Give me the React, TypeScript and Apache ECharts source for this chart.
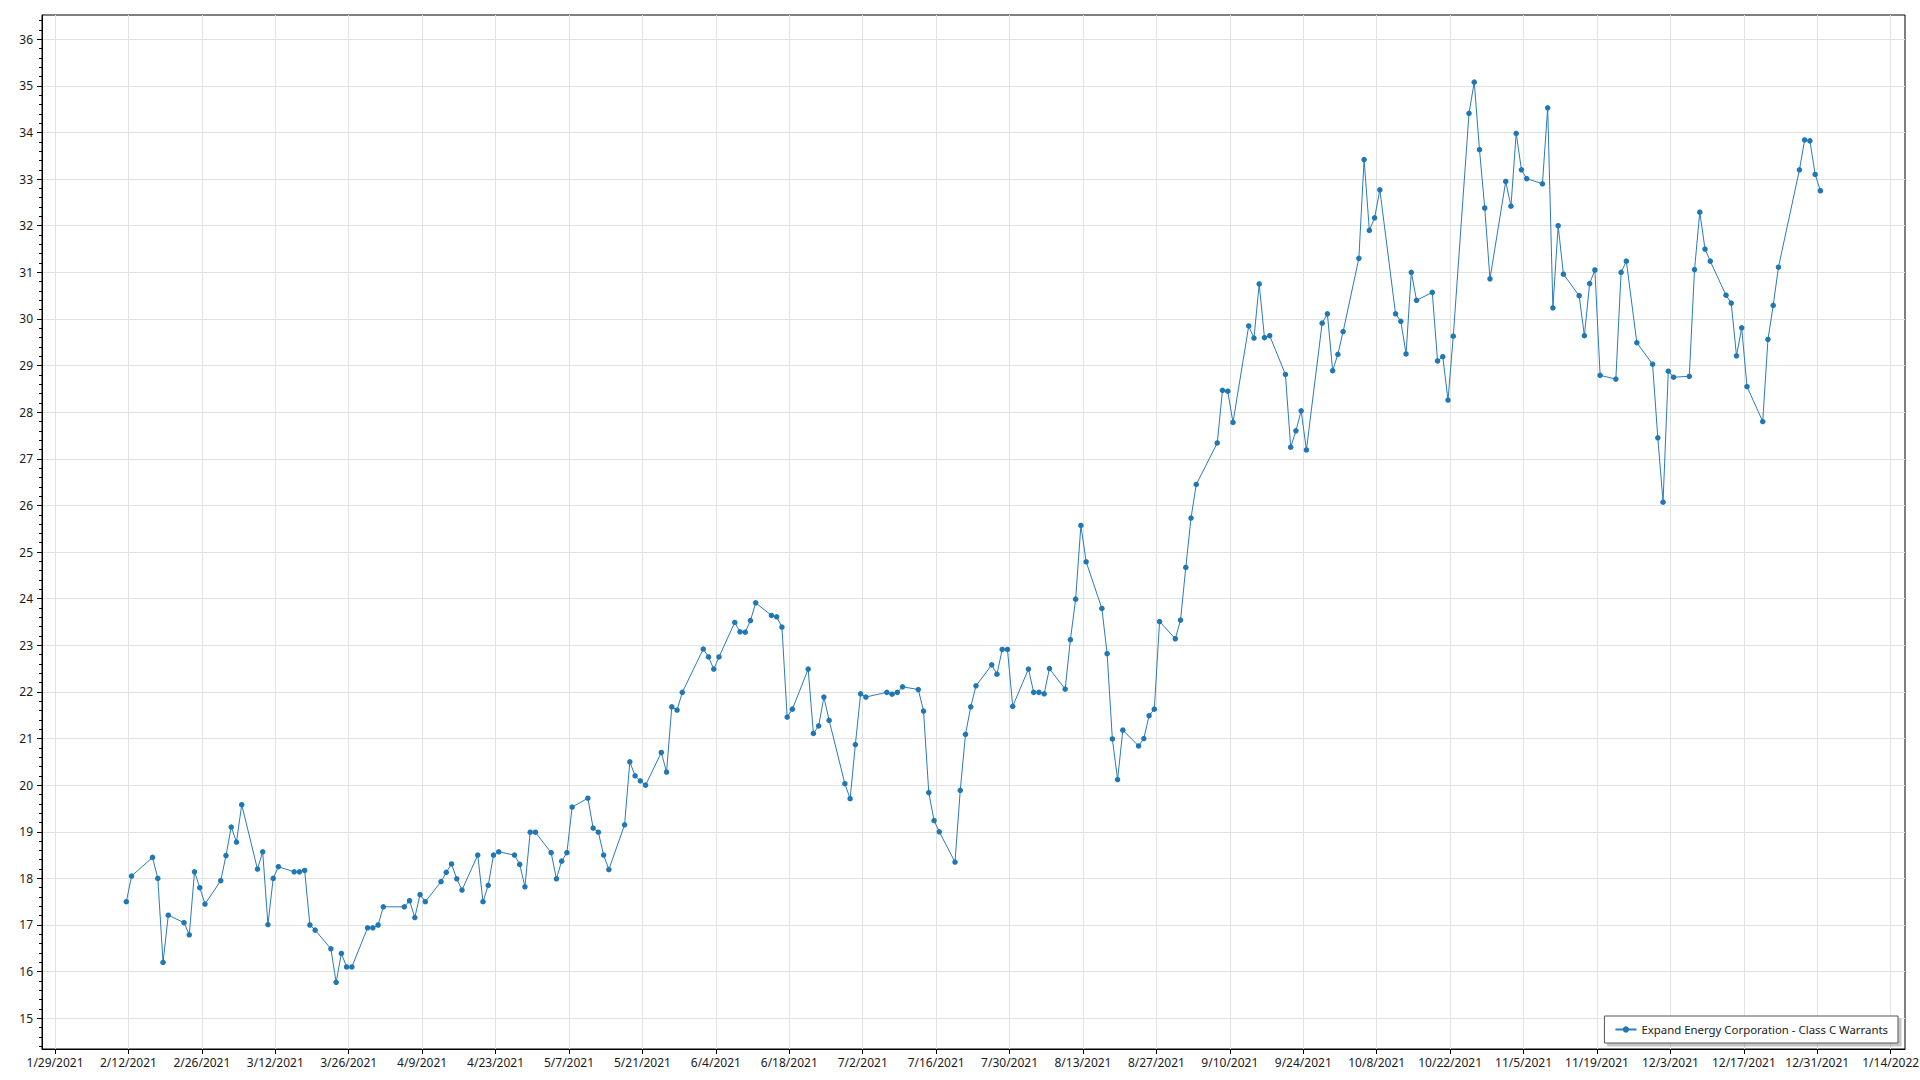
import React, { useEffect, useRef } from "react";
import * as echarts from "echarts";

const SERIES_NAME = "Expand Energy Corporation - Class C Warrants";

const dates: string[] = [
  "2021-02-11", "2021-02-12", "2021-02-16", "2021-02-17", "2021-02-18", "2021-02-19",
  "2021-02-22", "2021-02-23", "2021-02-24", "2021-02-25", "2021-02-26",
  "2021-03-01", "2021-03-02", "2021-03-03", "2021-03-04", "2021-03-05",
  "2021-03-08", "2021-03-09", "2021-03-10", "2021-03-11", "2021-03-12",
  "2021-03-15", "2021-03-16", "2021-03-17", "2021-03-18", "2021-03-19",
  "2021-03-22", "2021-03-23", "2021-03-24", "2021-03-25", "2021-03-26",
  "2021-03-29", "2021-03-30", "2021-03-31", "2021-04-01",
  "2021-04-05", "2021-04-06", "2021-04-07", "2021-04-08", "2021-04-09",
  "2021-04-12", "2021-04-13", "2021-04-14", "2021-04-15", "2021-04-16",
  "2021-04-19", "2021-04-20", "2021-04-21", "2021-04-22", "2021-04-23",
  "2021-04-26", "2021-04-27", "2021-04-28", "2021-04-29", "2021-04-30",
  "2021-05-03", "2021-05-04", "2021-05-05", "2021-05-06", "2021-05-07",
  "2021-05-10", "2021-05-11", "2021-05-12", "2021-05-13", "2021-05-14",
  "2021-05-17", "2021-05-18", "2021-05-19", "2021-05-20", "2021-05-21",
  "2021-05-24", "2021-05-25", "2021-05-26", "2021-05-27", "2021-05-28",
  "2021-06-01", "2021-06-02", "2021-06-03", "2021-06-04",
  "2021-06-07", "2021-06-08", "2021-06-09", "2021-06-10", "2021-06-11",
  "2021-06-14", "2021-06-15", "2021-06-16", "2021-06-17", "2021-06-18",
  "2021-06-21", "2021-06-22", "2021-06-23", "2021-06-24", "2021-06-25",
  "2021-06-28", "2021-06-29", "2021-06-30", "2021-07-01", "2021-07-02",
  "2021-07-06", "2021-07-07", "2021-07-08", "2021-07-09",
  "2021-07-12", "2021-07-13", "2021-07-14", "2021-07-15", "2021-07-16",
  "2021-07-19", "2021-07-20", "2021-07-21", "2021-07-22", "2021-07-23",
  "2021-07-26", "2021-07-27", "2021-07-28", "2021-07-29", "2021-07-30",
  "2021-08-02", "2021-08-03", "2021-08-04", "2021-08-05", "2021-08-06",
  "2021-08-09", "2021-08-10", "2021-08-11", "2021-08-12", "2021-08-13",
  "2021-08-16", "2021-08-17", "2021-08-18", "2021-08-19", "2021-08-20",
  "2021-08-23", "2021-08-24", "2021-08-25", "2021-08-26", "2021-08-27",
  "2021-08-30", "2021-08-31", "2021-09-01", "2021-09-02", "2021-09-03",
  "2021-09-07", "2021-09-08", "2021-09-09", "2021-09-10",
  "2021-09-13", "2021-09-14", "2021-09-15", "2021-09-16", "2021-09-17",
  "2021-09-20", "2021-09-21", "2021-09-22", "2021-09-23", "2021-09-24",
  "2021-09-27", "2021-09-28", "2021-09-29", "2021-09-30", "2021-10-01",
  "2021-10-04", "2021-10-05", "2021-10-06", "2021-10-07", "2021-10-08",
  "2021-10-11", "2021-10-12", "2021-10-13", "2021-10-14", "2021-10-15",
  "2021-10-18", "2021-10-19", "2021-10-20", "2021-10-21", "2021-10-22",
  "2021-10-25", "2021-10-26", "2021-10-27", "2021-10-28", "2021-10-29",
  "2021-11-01", "2021-11-02", "2021-11-03", "2021-11-04", "2021-11-05",
  "2021-11-08", "2021-11-09", "2021-11-10", "2021-11-11", "2021-11-12",
  "2021-11-15", "2021-11-16", "2021-11-17", "2021-11-18", "2021-11-19",
  "2021-11-22", "2021-11-23", "2021-11-24", "2021-11-26",
  "2021-11-29", "2021-11-30", "2021-12-01", "2021-12-02", "2021-12-03",
  "2021-12-06", "2021-12-07", "2021-12-08", "2021-12-09", "2021-12-10",
  "2021-12-13", "2021-12-14", "2021-12-15", "2021-12-16", "2021-12-17",
  "2021-12-20", "2021-12-21", "2021-12-22", "2021-12-23",
  "2021-12-27", "2021-12-28", "2021-12-29", "2021-12-30", "2021-12-31",
];

const values: number[] = [
  17.50, 18.05, 18.45, 18.00, 16.20, 17.21,
  17.05, 16.79, 18.14, 17.80, 17.45,
  17.95, 18.49, 19.10, 18.78, 19.58,
  18.20, 18.57, 17.01, 18.00, 18.25,
  18.14, 18.14, 18.17, 17.00, 16.89,
  16.49, 15.77, 16.39, 16.10, 16.10,
  16.94, 16.94, 17.00, 17.39,
  17.39, 17.52, 17.16, 17.65, 17.50,
  17.93, 18.13, 18.31, 17.99, 17.75,
  18.50, 17.50, 17.85, 18.50, 18.57,
  18.50, 18.30, 17.82, 18.99, 18.99,
  18.55, 17.99, 18.37, 18.55, 19.53,
  19.72, 19.08, 18.99, 18.50, 18.19,
  19.15, 20.50, 20.20, 20.09, 20.00,
  20.70, 20.28, 21.68, 21.61, 21.99,
  22.92, 22.75, 22.49, 22.75,
  23.49, 23.29, 23.28, 23.53, 23.91,
  23.64, 23.61, 23.39, 21.46, 21.63,
  22.49, 21.11, 21.27, 21.89, 21.39,
  20.03, 19.71, 20.87, 21.96, 21.89,
  21.99, 21.95, 21.99, 22.11,
  22.05, 21.59, 19.84, 19.24, 19.00,
  18.35, 19.89, 21.09, 21.68, 22.13,
  22.58, 22.38, 22.91, 22.91, 21.69,
  22.49, 21.99, 21.99, 21.96, 22.50,
  22.06, 23.12, 23.99, 25.57, 24.79,
  23.79, 22.82, 20.99, 20.12, 21.18,
  20.84, 21.00, 21.49, 21.63, 23.51,
  23.14, 23.54, 24.67, 25.73, 26.45,
  27.34, 28.47, 28.45, 27.78,
  29.85, 29.59, 30.75, 29.60, 29.64,
  28.81, 27.25, 27.60, 28.03, 27.19,
  29.91, 30.11, 28.89, 29.24, 29.73,
  31.30, 33.42, 31.90, 32.17, 32.77,
  30.11, 29.95, 29.25, 31.00, 30.40,
  30.57, 29.10, 29.19, 28.26, 29.63,
  34.41, 35.08, 33.63, 32.38, 30.86,
  32.95, 32.42, 33.98, 33.20, 33.01,
  32.90, 34.53, 30.24, 32.00, 30.96,
  30.50, 29.64, 30.76, 31.05, 28.79,
  28.71, 31.00, 31.24, 29.49,
  29.03, 27.45, 26.07, 28.88, 28.75,
  28.77, 31.06, 32.29, 31.50, 31.24,
  30.51, 30.34, 29.21, 29.81, 28.55,
  27.80, 29.56, 30.29, 31.11,
  33.20, 33.84, 33.82, 33.10, 32.75,
];

const xTickDates: string[] = [
  "2021-01-29", "2021-02-12", "2021-02-26", "2021-03-12", "2021-03-26",
  "2021-04-09", "2021-04-23", "2021-05-07", "2021-05-21", "2021-06-04",
  "2021-06-18", "2021-07-02", "2021-07-16", "2021-07-30", "2021-08-13",
  "2021-08-27", "2021-09-10", "2021-09-24", "2021-10-08", "2021-10-22",
  "2021-11-05", "2021-11-19", "2021-12-03", "2021-12-17", "2021-12-31",
  "2022-01-14",
];

const yTickValues: number[] = [
  15, 16, 17, 18, 19, 20, 21, 22, 23, 24, 25, 26,
  27, 28, 29, 30, 31, 32, 33, 34, 35, 36,
];

const DAY = 86400000;
const parseDay = (s: string) => {
  const [y, m, d] = s.split("-").map(Number);
  return Date.UTC(y, m - 1, d);
};
const TIME_OF_DAY = 0.6 * DAY;
const X_MIN = parseDay("2021-01-29") - 2.48 * DAY;
const X_MAX = parseDay("2022-01-14") + 2.73 * DAY;
const Y_MIN = 14.34;
const Y_MAX = 36.52;

const FONT = "'Segoe UI', 'Noto Sans', sans-serif";

export default function App() {
  const ref = useRef<HTMLDivElement>(null);

  useEffect(() => {
    if (!ref.current) return;
    const chart = echarts.init(ref.current, null, { renderer: "svg" });

    const minorTicks: number[] = [];
    for (let k = Math.ceil(Y_MIN * 5); k <= Math.floor(Y_MAX * 5); k++) {
      if (k % 5 !== 0) minorTicks.push(k / 5);
    }

    const xTicks = xTickDates.map(parseDay);
    const seriesData = dates.map((d, i) => [parseDay(d) + TIME_OF_DAY, values[i]]);

    chart.setOption({
      animation: false,
      backgroundColor: "#ffffff",
      textStyle: { fontFamily: FONT },
      grid: {
        left: 42,
        right: 15,
        top: 15,
        bottom: 31,
        show: true,
        borderColor: "#000000",
        borderWidth: 1,
        containLabel: false,
        outerBoundsMode: "none",
      },
      legend: {
        data: [SERIES_NAME],
        right: 22,
        bottom: 37,
        padding: [8, 10, 8, 10],
        itemWidth: 21,
        itemHeight: 8,
        itemGap: 5,
        backgroundColor: "#ffffff",
        borderColor: "#555555",
        borderWidth: 1,
        borderRadius: 0,
        shadowColor: "rgba(0,0,0,0.22)",
        shadowBlur: 1,
        shadowOffsetX: 3,
        shadowOffsetY: 3,
        textStyle: { fontSize: 11.4, color: "#1a1a1a", fontFamily: FONT },
      },
      xAxis: {
        type: "value",
        min: X_MIN,
        max: X_MAX,
        axisLine: { show: true, onZero: false, lineStyle: { color: "#000000", width: 1 } },
        axisTick: { show: true, length: 5, inside: false, customValues: xTicks, lineStyle: { color: "#000000" } },
        axisLabel: {
          show: true,
          customValues: xTicks,
          margin: 7,
          fontSize: 12,
          color: "#1a1a1a",
          fontFamily: FONT,
          formatter: (v: number) => {
            const d = new Date(Math.round(v));
            return `${d.getUTCMonth() + 1}/${d.getUTCDate()}/${d.getUTCFullYear()}`;
          },
        },
        splitLine: { show: true, lineStyle: { color: "#e2e2e2", width: 1 } },
      },
      yAxis: [
        {
          type: "value",
          min: Y_MIN,
          max: Y_MAX,
          position: "left",
          axisLine: { show: true, onZero: false, lineStyle: { color: "#000000", width: 1 } },
          axisTick: { show: true, length: 5, inside: false, customValues: yTickValues, lineStyle: { color: "#000000" } },
          axisLabel: {
            show: true,
            customValues: yTickValues,
            margin: 9,
            fontSize: 12,
            color: "#1a1a1a",
            fontFamily: FONT,
            formatter: (v: number) => String(Math.round(v)),
          },
          splitLine: { show: true, lineStyle: { color: "#e2e2e2", width: 1 } },
        },
        {
          type: "value",
          min: Y_MIN,
          max: Y_MAX,
          position: "left",
          offset: 0,
          axisLine: { show: false },
          axisTick: { show: true, length: 3, inside: false, customValues: minorTicks, lineStyle: { color: "#000000" } },
          axisLabel: { show: false },
          splitLine: { show: false },
        },
      ],
      series: [
        {
          type: "line",
          name: SERIES_NAME,
          xAxisIndex: 0,
          yAxisIndex: 0,
          data: seriesData,
          symbol: "circle",
          symbolSize: 5.5,
          showSymbol: true,
          showAllSymbol: true,
          lineStyle: { color: "#2b7bba", width: 1 },
          itemStyle: { color: "#1f77b4" },
          emphasis: { disabled: true },
        },
      ],
    });

    return () => chart.dispose();
  }, []);

  return (
    <div
      ref={ref}
      style={{ position: "absolute", left: 0, top: 0, width: 1920, height: 1080 }}
    />
  );
}
